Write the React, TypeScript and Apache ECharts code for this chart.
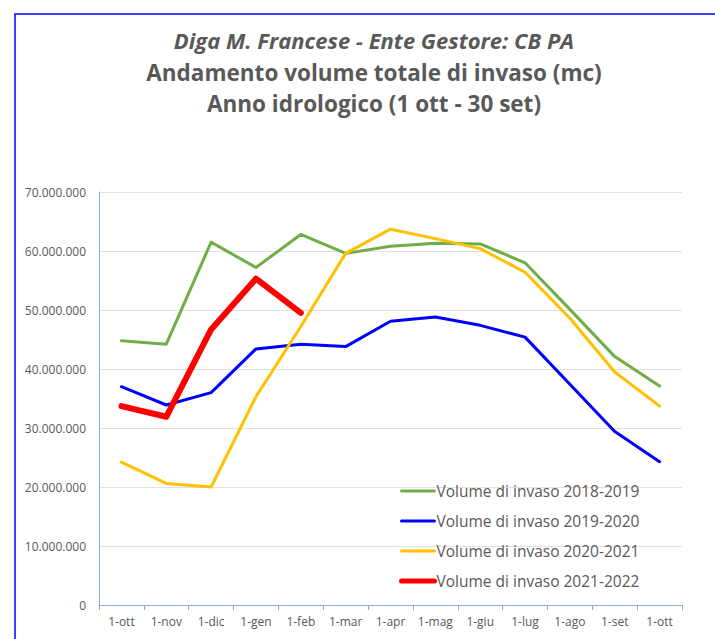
import React, { useEffect, useRef } from "react";
import * as echarts from "echarts";

const categories = ["1-ott", "1-nov", "1-dic", "1-gen", "1-feb", "1-mar", "1-apr", "1-mag", "1-giu", "1-lug", "1-ago", "1-set", "1-ott"];
const s2018 = [44.8, 44.2, 61.5, 57.2, 62.8, 59.6, 60.8, 61.3, 61.2, 58.0, 50.1, 42.1, 37.1].map((v) => v * 1e6);
const s2019 = [37.0, 33.9, 36.0, 43.4, 44.2, 43.8, 48.1, 48.8, 47.4, 45.4, 37.4, 29.4, 24.3].map((v) => v * 1e6);
const s2020 = [24.2, 20.6, 20.0, 35.3, 47.2, 59.6, 63.7, 62.1, 60.4, 56.4, 48.6, 39.5, 33.7].map((v) => v * 1e6);
const s2021 = [33.7, 31.9, 46.7, 55.3, 49.5].map((v) => v * 1e6);
const seriesNames = ["Volume di invaso 2018-2019", "Volume di invaso 2019-2020", "Volume di invaso 2020-2021", "Volume di invaso 2021-2022"];
const seriesColors = ["#70ad47", "#0000ff", "#ffc000", "#ff0000"];
const seriesWidths = [3, 3, 3, 6];
const titleLines = ["Diga M. Francese - Ente Gestore: CB PA", "Andamento volume totale di invaso (mc)", "Anno idrologico (1 ott - 30 set)"];

const fmt = (v: number) => String(Math.round(v)).replace(/\B(?=(\d{3})+(?!\d))/g, ".");

export default function App() {
  const ref = useRef<HTMLDivElement>(null);
  useEffect(() => {
    document.body.style.margin = "0";
    const chart = echarts.init(ref.current!, null, { renderer: "svg" });
    const font = "'Open Sans', sans-serif";
    const grey = "#595959";
    const seriesData = [s2018, s2019, s2020, s2021];
    chart.setOption({
      animation: false,
      backgroundColor: "#ffffff",
      graphic: [
        { type: "rect", shape: { x: 15, y: 14, width: 740, height: 660 }, style: { fill: "none", stroke: "#0000ff", lineWidth: 1.5 }, silent: true },
        { type: "text", x: 374, y: 40, style: { text: titleLines[0], fontFamily: font, fontSize: 22, fontWeight: "bold", fontStyle: "italic", fill: grey, align: "center", verticalAlign: "middle" } },
        { type: "text", x: 374, y: 72, style: { text: titleLines[1], fontFamily: font, fontSize: 22.5, fontWeight: "bold", fill: grey, align: "center", verticalAlign: "middle" } },
        { type: "text", x: 374, y: 103, style: { text: titleLines[2], fontFamily: font, fontSize: 22.5, fontWeight: "bold", fill: grey, align: "center", verticalAlign: "middle" } },
      ],
      grid: { left: 99, right: 33, top: 192, bottom: 34, containLabel: false },
      legend: {
        orient: "vertical",
        left: 394,
        top: 478,
        itemWidth: 33,
        itemHeight: 14,
        itemGap: 14,
        itemStyle: { opacity: 0 },
        textStyle: { fontFamily: font, fontSize: 15.5, color: grey, padding: [0, 0, 0, -3] },
        data: seriesNames.map((n, i) => ({
          name: n,
          lineStyle: { color: seriesColors[i], width: i === 3 ? 5 : 3, cap: "round" },
        })),
      },
      xAxis: {
        type: "category",
        data: categories,
        boundaryGap: true,
        axisLine: { lineStyle: { color: "#8eaadb", width: 1 } },
        axisTick: { show: true, length: 5, lineStyle: { color: "#8eaadb" } },
        axisLabel: { fontFamily: font, fontSize: 12, color: grey, margin: 10, interval: 0 },
      },
      yAxis: {
        type: "value",
        min: 0,
        max: 70000000,
        interval: 10000000,
        axisLine: { show: true, lineStyle: { color: "#8eaadb", width: 1 } },
        axisTick: { show: false },
        splitLine: { lineStyle: { color: "#e0e0e0", width: 1 } },
        axisLabel: { fontFamily: font, fontSize: 12, color: grey, margin: 13, formatter: (v: number) => fmt(v) },
      },
      series: seriesNames.map((n, i) => ({
        name: n,
        type: "line",
        data: seriesData[i],
        symbol: "none",
        lineStyle: { color: seriesColors[i], width: seriesWidths[i], cap: "round", join: "round" },
        itemStyle: { color: seriesColors[i] },
      })),
    });
    return () => chart.dispose();
  }, []);
  return <div ref={ref} style={{ width: 715, height: 639 }} />;
}
